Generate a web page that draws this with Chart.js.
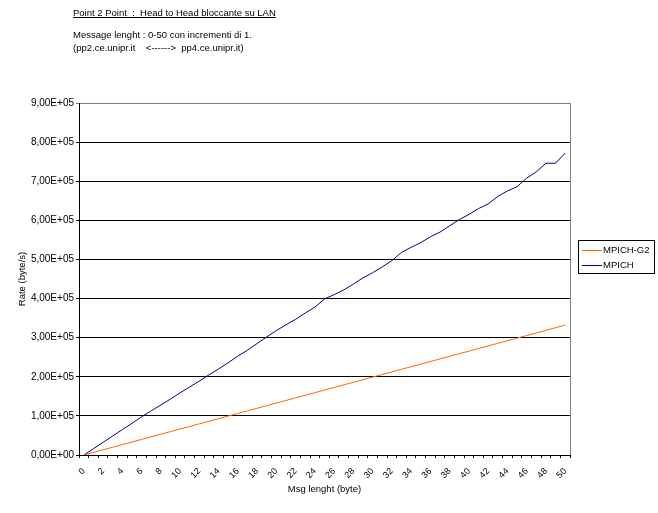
<!DOCTYPE html>
<html><head><meta charset="utf-8">
<script src="https://cdn.jsdelivr.net/npm/chart.js@4"></script>
<style>
html,body{margin:0;padding:0;background:#fff}
#wrap{position:relative;width:658px;height:513px}
.note{position:absolute;font:9.5px "Liberation Sans",Arial,sans-serif;line-height:11px;color:#000;white-space:pre}
</style></head><body>
<div id="wrap">
<canvas id="c" width="658" height="513"></canvas>
<div class="note" style="left:73px;top:7px;text-decoration:underline">Point 2 Point  :  Head to Head bloccante su LAN</div>
<div class="note" style="left:73px;top:29px">Message lenght : 0-50 con incrementi di 1.</div>
<div class="note" style="left:73px;top:42px">(pp2.ce.unipr.it    &lt;------&gt;  pp4.ce.unipr.it)</div>
</div>
<script>
// message length (byte) 0..50
const msgLen = ['0','1','2','3','4','5','6','7','8','9','10','11','12','13','14','15','16','17','18','19','20','21','22','23','24','25','26','27','28','29','30','31','32','33','34','35','36','37','38','39','40','41','42','43','44','45','46','47','48','49','50'];
// rate (byte/s)
const mpichG2 = [0,6600,13300,19900,26600,33200,39900,46500,53100,59800,66400,73000,79700,86300,93000,99600,106200,112900,119500,126200,132800,139400,146100,152700,159400,166000,172600,179300,185900,192600,199200,205800,212500,219100,225800,232400,239000,245700,252300,259000,265600,272200,278900,285500,292200,298800,305400,312100,318700,325400,332000];
const mpich = [0,16000,32500,48500,65000,81000,97500,113000,128000,143000,159000,174000,189000,205000,220000,236000,253000,268000,285000,302000,318000,333000,347000,363000,378000,399000,410000,422000,437000,453000,466000,481000,497000,518000,531000,543000,558000,570000,586000,602000,615000,630000,642000,661000,675000,686000,708000,724000,746000,746000,772000];
const yTicks = [0,100000,200000,300000,400000,500000,600000,700000,800000,900000];

const FONT = '"Liberation Sans", Arial, sans-serif';
Chart.defaults.font.family = FONT;
Chart.defaults.color = '#000';

function sci(v){
  if(v===0) return '0,00E+00';
  const e=Math.floor(Math.log10(v)); const m=v/Math.pow(10,e);
  return m.toFixed(2).replace('.',',')+'E+'+String(e).padStart(2,'0');
}

const frame = {id:'frame', afterDraw(chart){
  const {ctx, chartArea:a} = chart;
  ctx.save();
  ctx.strokeStyle='#808080'; ctx.lineWidth=1;
  ctx.beginPath(); ctx.moveTo(Math.round(a.right)+0.5,a.top); ctx.lineTo(Math.round(a.right)+0.5,a.bottom); ctx.stroke();
  // legend
  ctx.strokeStyle='#000';
  ctx.strokeRect(578.5,240.5,76,33);
  ctx.font='9.5px '+FONT; ctx.textBaseline='middle'; ctx.fillStyle='#000';
  chart.data.datasets.forEach((ds,i)=>{
    const y=250.5+i*15;
    ctx.strokeStyle=ds.borderColor; ctx.beginPath(); ctx.moveTo(582,y); ctx.lineTo(602,y); ctx.stroke();
    ctx.fillText(ds.label,603,y);
  });
  ctx.restore();
}};

new Chart(document.getElementById('c'),{
  type:'line',
  data:{labels:msgLen,datasets:[
    {label:'MPICH-G2',data:mpichG2,borderColor:'#FF6600',borderWidth:1,pointRadius:0,tension:0,fill:false},
    {label:'MPICH',data:mpich,borderColor:'#000080',borderWidth:1,pointRadius:0,tension:0,fill:false}
  ]},
  options:{
    responsive:false,animation:false,
    layout:{padding:{top:103,right:88,left:0,bottom:0}},
    plugins:{legend:{display:false},tooltip:{enabled:false}},
    scales:{
      x:{type:'category',offset:true,
        grid:{offset:true,drawOnChartArea:false,tickLength:3,color:'#000'},
        border:{color:'#000'},
        ticks:{autoSkip:false,minRotation:45,maxRotation:45,padding:8,font:{size:9},
          callback:(v,i)=> i%2===0 ? msgLen[i] : ''},
        title:{display:true,text:'Msg lenght (byte)',font:{size:9.5},padding:{top:4,bottom:18}},
        afterFit:s=>{s.height=58;}
      },
      y:{min:0,max:900000,
        afterBuildTicks:s=>{s.ticks=yTicks.map(v=>({value:v}));},
        grid:{color:c=>c.tick && c.tick.value===900000 ? '#808080' : '#000',tickLength:3},
        border:{color:'#000'},
        ticks:{padding:2,font:{size:10},callback:v=>sci(v)},
        title:{display:true,text:'Rate (byte/s)',font:{size:9.5},padding:{top:17,bottom:0}},
        afterFit:s=>{s.width=79;}
      }
    }
  },
  plugins:[frame]
});
</script>
</body></html>
